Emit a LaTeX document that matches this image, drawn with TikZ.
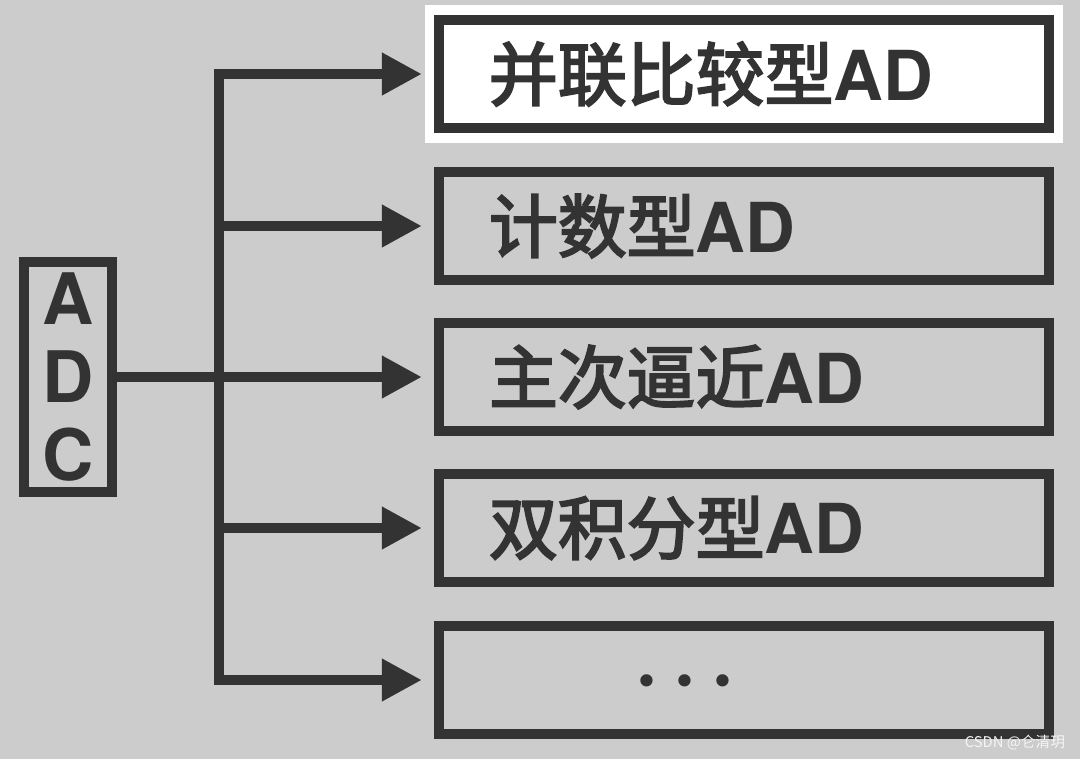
\documentclass[tikz,border=0pt]{standalone}
\usepackage{fontspec}
\setmainfont{TeX Gyre Heros}
\newfontfamily\cjk{Noto Sans CJK SC}[FakeBold=3]
\newfontfamily\cjkplain{Noto Sans CJK SC}
\newfontfamily\symfont{DejaVu Sans}
\usetikzlibrary{arrows.meta}
\definecolor{ink}{HTML}{333333}
\definecolor{bg}{HTML}{CCCCCC}
\newcommand\adtail{{\normalfont\bfseries AD}}

\begin{document}
\begin{tikzpicture}[
    x=0.025cm, y=-0.025cm,
    typebox/.style={rectangle, draw=ink, line width=0.25cm, minimum width=15.25cm, minimum height=2.675cm, inner xsep=1.25cm, inner ysep=0pt, text width=12.75cm, align=left, text=ink, font=\cjk\fontsize{49}{60}\selectfont},
    adcbox/.style={rectangle, draw=ink, line width=0.25cm, minimum width=2.21cm, minimum height=5.74cm, inner sep=0pt, align=center, text=ink, font=\fontsize{50.5}{55.5}\selectfont\bfseries},
    flow/.style={-{Triangle[length=1cm, width=1cm]}, draw=ink, line width=0.25cm, shorten >=0.3cm}
]
    % Background
    \useasboundingbox (0,0) rectangle (1080,759);
    \fill[bg] (0,0) rectangle (1080,759);
    \fill[white] (425,5) rectangle (1063,143);

    % Nodes
    \node[adcbox] (adc) at (68,377) {A\\D\\C};
    \node[typebox] (par) at (744,74) {并联比较型\adtail};
    \node[typebox] (cnt) at (744,226) {计数型\adtail};
    \node[typebox] (succ) at (744,377) {主次逼近\adtail};
    \node[typebox] (dual) at (744,528) {双积分型\adtail};
    \node[typebox] (more) at (744,680) {};
    \node[text=ink, font=\symfont\fontsize{30}{36}\selectfont] (dots) at (685,686) {• • •};
    \coordinate (split) at (219,377);

    % Edges
    \draw[flow] (adc.east) -- (succ.west);
    \draw[flow] (split) |- (par.west);
    \draw[flow] (split) |- (cnt.west);
    \draw[flow] (split) |- (dual.west);
    \draw[flow] (split) |- (more.west);

    % Watermark
    \node[text=white!92!gray, font=\cjkplain\fontsize{10.5}{12}\selectfont] (mark) at (1015,743) {CSDN @仑清玥};
\end{tikzpicture}
\end{document}
